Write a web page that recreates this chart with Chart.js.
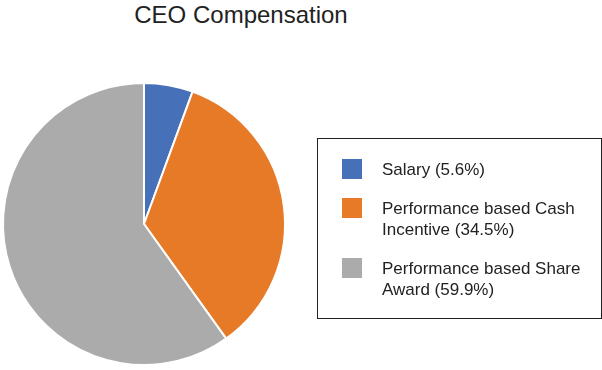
<!DOCTYPE html>
<html>
<head>
<meta charset="utf-8">
<script src="https://cdn.jsdelivr.net/npm/chart.js@4"></script>
<style>
    body { margin: 0; background: #fff; }
    #wrap { position: relative; width: 602px; height: 370px; font-family: "Liberation Sans", Arial, sans-serif; color: #222; }
    #chartTitle { position: absolute; left: 0; top: 1px; width: 482px; text-align: center; font-size: 24px; line-height: 28px; }
    #pieBox { position: absolute; left: 0; top: 0; width: 602px; height: 370px; }
    #legendBox { position: absolute; left: 317px; top: 138px; width: 283px; height: 179px; border: 1px solid #222; box-sizing: content-box; }
    #legendBox ul { list-style: none; margin: 0; padding: 20px 0 0 24px; }
    #legendBox li { display: flex; align-items: flex-start; margin-bottom: 18px; font-size: 17px; line-height: 21px; }
    #legendBox .swatch { width: 20px; height: 20px; flex: none; margin-right: 20px; }
</style>
</head>
<body>
<div id="wrap">
    <div id="chartTitle">CEO Compensation</div>
    <div id="pieBox"><canvas id="pieChart" width="602" height="370"></canvas></div>
    <div id="legendBox"><ul id="legendList"></ul></div>
</div>
<script>
const categories = ['Salary', 'Performance based Cash Incentive', 'Performance based Share Award']
const shares = [5.6, 34.5, 59.9]
const legendLabels = ['Salary (5.6%)', 'Performance based Cash<br>Incentive (34.5%)', 'Performance based Share<br>Award (59.9%)']
const sliceColors = ['#4670B8', '#E77A27', '#ACABAC']

const ctx = document.getElementById('pieChart').getContext('2d')

const chartInstance = new Chart(ctx, {
    type: 'pie',
    data: {
        labels: categories,
        datasets: [{
            data: shares,
            backgroundColor: sliceColors,
            borderColor: '#fff',
            borderWidth: 2
        }]
    },
    options: {
        responsive: false,
        animation: false,
        layout: { padding: { left: 2, top: 82, right: 316, bottom: 4 } },
        plugins: {
            legend: { display: false },
            title: { display: false },
            tooltip: { enabled: false }
        }
    }
})

// html legend, built from the chart's own legend items
const items = chartInstance.options.plugins.legend.labels.generateLabels(chartInstance)
document.getElementById('legendList').innerHTML = items.map((item, i) =>
    `<li><span class="swatch" style="background:${item.fillStyle}"></span><span>${legendLabels[i]}</span></li>`
).join('')
</script>
</body>
</html>
